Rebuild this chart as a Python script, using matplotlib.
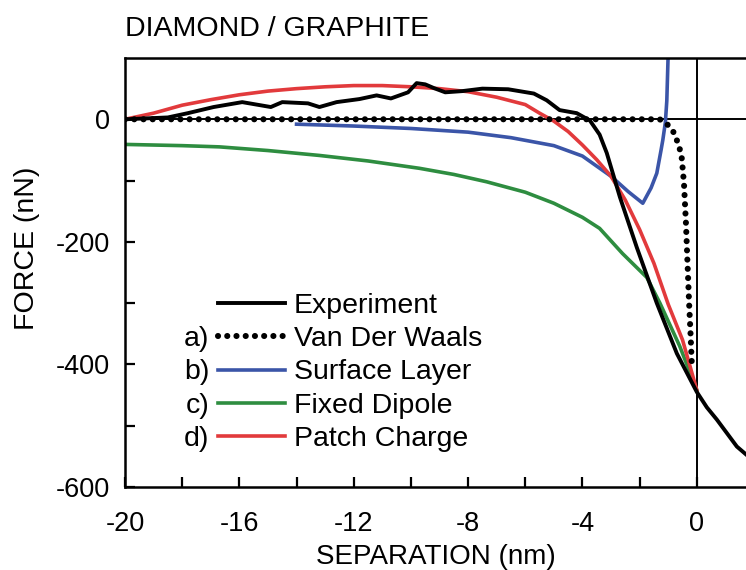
import numpy as np
import matplotlib
matplotlib.use("Agg")
import matplotlib.pyplot as plt

plt.rcParams["font.family"] = ["Liberation Sans", "DejaVu Sans"]

# experiment (measured force curve)
exp_x = [-20, -19, -18.5, -17.8, -16.9, -15.9, -14.9, -14.5, -13.6, -13.2, -12.6, -11.8, -11.2,
         -10.7, -10.1, -9.8, -9.5, -9.2, -8.8, -8.2, -7.5, -6.6, -5.7, -5.25, -4.8, -4.2, -3.74,
         -3.4, -3.15, -2.69, -2.1, -1.4, -0.7, 0.0, 0.35, 0.7, 1.05, 1.4, 1.75]
exp_y = [0, 2, 3, 10, 20, 28, 20, 28, 26, 20, 28, 33, 39,
         34, 44, 59, 57, 51, 44, 46, 50, 49, 42, 31, 15, 10, -2,
         -25, -55, -127, -209, -300, -382, -445, -470, -490, -512, -534, -548]

# a) van der waals
vdw_x = [-20, -10, -2, -1.3, -1.1, -0.94, -0.8, -0.7, -0.6, -0.53, -0.45, -0.38, -0.33, -0.27, -0.22, -0.17]
vdw_y = [0, 0, 0, 0, -5, -13, -22, -34, -48, -62, -104, -170, -230, -300, -350, -405]

# b) surface layer
surf_x = [-14, -12, -10, -8, -6.5, -5, -4, -3, -2.4, -1.89, -1.6, -1.4, -1.25, -1.19, -1.1, -1.05, -1.0]
surf_y = [-8, -11, -15, -21, -30, -43, -60, -93, -118, -137, -112, -88, -50, -34, -5, 30, 110]

# c) fixed dipole
dip_x = [-20, -18, -16.7, -15, -13.2, -11.5, -9.7, -8.5, -7.35, -6, -5, -4, -3.4, -2.6, -1.75, -1.29, -0.6, 0]
dip_y = [-41, -43, -45, -51, -59, -68, -80, -90, -102, -119, -137, -160, -178, -219, -258, -300, -370, -442]

# d) patch charge
patch_x = [-20, -19, -18, -17, -16, -15, -14, -13, -12, -11, -10, -9, -8, -7, -6, -5.5, -5, -4.5,
           -4, -3.5, -3, -2.5, -2, -1.5, -1.0, -0.5, 0]
patch_y = [0, 10, 23, 32, 40, 46, 50, 53, 55, 55, 53, 50, 45, 36, 24, 10, -3, -20,
           -42, -66, -93, -132, -180, -235, -302, -360, -442]

prefixes = ["", "a)", "b)", "c)", "d)"]

fig = plt.figure(figsize=(7.46, 5.7), dpi=100)
ax = fig.add_axes([125 / 746, 83 / 570, 621 / 746, 429 / 570])

ax.axhline(0, color="black", lw=1.4, zorder=1)
ax.axvline(0, color="black", lw=1.4, zorder=1)

ax.plot(dip_x, dip_y, color="#2e8d40", lw=2.6, label="Fixed Dipole", zorder=2)
ax.plot(surf_x, surf_y, color="#3b55a8", lw=2.6, label="Surface Layer", zorder=2)
ax.plot(patch_x, patch_y, color="#e23a3c", lw=2.6, label="Patch Charge", zorder=3)
ax.plot(vdw_x, vdw_y, color="black", lw=4.4, linestyle=(0, (0.01, 1.5)),
        dash_capstyle="round", label="Van Der Waals", zorder=4)
ax.plot(exp_x, exp_y, color="black", lw=2.8, label="Experiment", zorder=5)

ax.set_xlim(-20, 1.72)
ax.set_ylim(-600, 100)

ax.set_xticks(np.arange(-20, 1, 2))
ax.set_xticklabels([str(int(v)) if v % 4 == 0 else "" for v in np.arange(-20, 1, 2)])
ax.set_yticks(np.arange(-600, 1, 100))
ax.set_yticklabels([str(int(v)) if v % 200 == 0 else "" for v in np.arange(-600, 1, 100)])
ax.tick_params(direction="in", length=7, width=1.6, labelsize=19.5)
ax.tick_params(axis="x", pad=17)
ax.tick_params(axis="y", pad=11)

for side in ["left", "bottom", "top"]:
    ax.spines[side].set_linewidth(1.8)
ax.spines["right"].set_visible(False)

ax.set_xlabel("SEPARATION (nm)", fontsize=20, labelpad=5)
ax.set_ylabel("FORCE (nN)", fontsize=20.5)
ax.yaxis.set_label_coords(-0.137, 0.557)

fig.text(125 / 746, 1 - 36 / 570, "DIAMOND / GRAPHITE", fontsize=20.5, va="baseline", ha="left")

# legend in the order of the reference
handles, labels = ax.get_legend_handles_labels()
order = ["Experiment", "Van Der Waals", "Surface Layer", "Fixed Dipole", "Patch Charge"]
hs = [handles[labels.index(l)] for l in order]
leg = ax.legend(hs, order, loc="upper left", bbox_to_anchor=(0.15, 0.453), frameon=False,
                fontsize=20.5, handlelength=2.35, handletextpad=0.3, labelspacing=0.26,
                borderpad=0, borderaxespad=0)

# a) b) c) d) in front of the legend handles
fig.canvas.draw()
inv = fig.transFigure.inverted()
for txt, pre in zip(leg.get_texts(), prefixes):
    if pre:
        bb = txt.get_window_extent()
        x, y = inv.transform((bb.x0 - 84, (bb.y0 + bb.y1) / 2))
        fig.text(x, y, pre, ha="right", va="center", fontsize=20.5)

fig.savefig("out.png", dpi=100)
